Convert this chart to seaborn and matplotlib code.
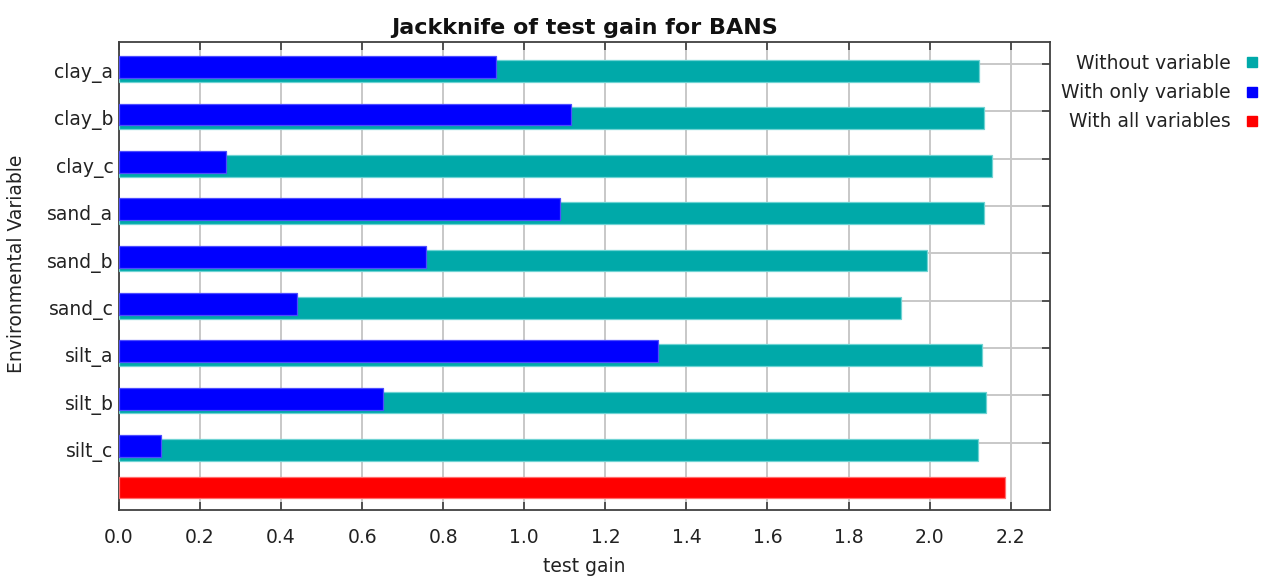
import matplotlib
matplotlib.use("Agg")
import matplotlib.pyplot as plt
from matplotlib.lines import Line2D
import numpy as np
import pandas as pd
import seaborn as sns

# Jackknife results (test gain) per environmental variable
variables = ["clay_a", "clay_b", "clay_c", "sand_a", "sand_b",
             "sand_c", "silt_a", "silt_b", "silt_c"]
without_variable = [2.123, 2.133, 2.155, 2.133, 1.994, 1.930, 2.128, 2.138, 2.119]
with_only_variable = [0.929, 1.114, 0.265, 1.087, 0.758, 0.440, 1.330, 0.652, 0.103]
with_all_variables = [2.187]

title = "Jackknife of test gain for BANS"
xticks = [0.0, 0.2, 0.4, 0.6, 0.8, 1.0, 1.2, 1.4, 1.6, 1.8, 2.0, 2.2]
legend_labels = ["Without variable", "With only variable", "With all variables"]

c_without = "#00a9a9"
c_only = "#0000ff"
c_all = "#ff0000"

sns.set_theme(style="white")
plt.rcParams["font.family"] = ["DejaVu Sans"]

fig = plt.figure(figsize=(12.67, 5.79), dpi=100)
ax = fig.add_axes([119 / 1267, 1 - 510 / 579, 931 / 1267, 468 / 579])

rows = np.arange(len(variables))
bar_h = 0.46

df_without = pd.DataFrame({"gain": without_variable, "pos": rows + 0.148})
df_only = pd.DataFrame({"gain": with_only_variable, "pos": rows + 0.068})
df_all = pd.DataFrame({"gain": with_all_variables, "pos": [len(variables) - 0.054]})

common = dict(orient="y", native_scale=True, width=bar_h, errorbar=None,
              saturation=1, linewidth=0.9, ax=ax)
sns.barplot(data=df_without, x="gain", y="pos", color=c_without,
            edgecolor="#6fd3d3", zorder=3, **common)
sns.barplot(data=df_only, x="gain", y="pos", color=c_only,
            edgecolor="#4d4dff", zorder=4, **common)
sns.barplot(data=df_all, x="gain", y="pos", color=c_all,
            edgecolor="#ff6f6f", zorder=3, **common)

ax.set_xlim(0, 2.297)
ax.set_ylim(9.42, -0.465)

# x axis: ticks inside on top and bottom, vertical grid
ax.set_xticks(xticks)
ax.set_xticklabels([f"{t:.1f}" for t in xticks])
ax.tick_params(axis="x", which="major", direction="in", length=6, width=1.1,
               top=True, bottom=True, color="#303030", labelsize=13.5,
               labelcolor="#222222", pad=13)

# y axis: grid lines and right-hand ticks on row boundaries, labels beside bars
ax.set_yticks(rows + 0.14)
ax.set_yticklabels(variables)
ax.set_yticks(rows, minor=True)
ax.tick_params(axis="y", which="major", length=0, left=False, right=False,
               labelsize=13.5, labelcolor="#222222", pad=4)
ax.tick_params(axis="y", which="minor", direction="in", length=6, width=1.1,
               left=False, right=True, color="#303030")

ax.grid(False)
ax.grid(True, axis="x", which="major", color="#c8c8c8", linewidth=1.4, zorder=0)
ax.grid(True, axis="y", which="minor", color="#c8c8c8", linewidth=1.4, zorder=0)
ax.set_axisbelow(True)

for s in ax.spines.values():
    s.set_visible(True)
    s.set_color("#404040")
    s.set_linewidth(1.3)

ax.set_title(title, fontsize=16, fontweight="bold", color="#111111", pad=6)
ax.set_xlabel("test gain", fontsize=13.5, color="#222222", labelpad=7.5)
ax.set_ylabel("Environmental Variable", fontsize=13.5, color="#222222")
ax.yaxis.set_label_coords(-0.1, 0.526)

handles = [Line2D([], [], marker="s", linestyle="", markersize=6.5,
                  markerfacecolor=c, markeredgecolor=c)
           for c in (c_without, c_only, c_all)]
fig.legend(handles, legend_labels, loc="upper right",
           bbox_to_anchor=(1259 / 1267, 1 - 54 / 579), frameon=False,
           markerfirst=False, alignment="right", fontsize=13.5,
           labelcolor="#222222", handlelength=0.8, handletextpad=0.7,
           labelspacing=0.54, borderpad=0, borderaxespad=0)

fig.savefig("out.png", dpi=100)
